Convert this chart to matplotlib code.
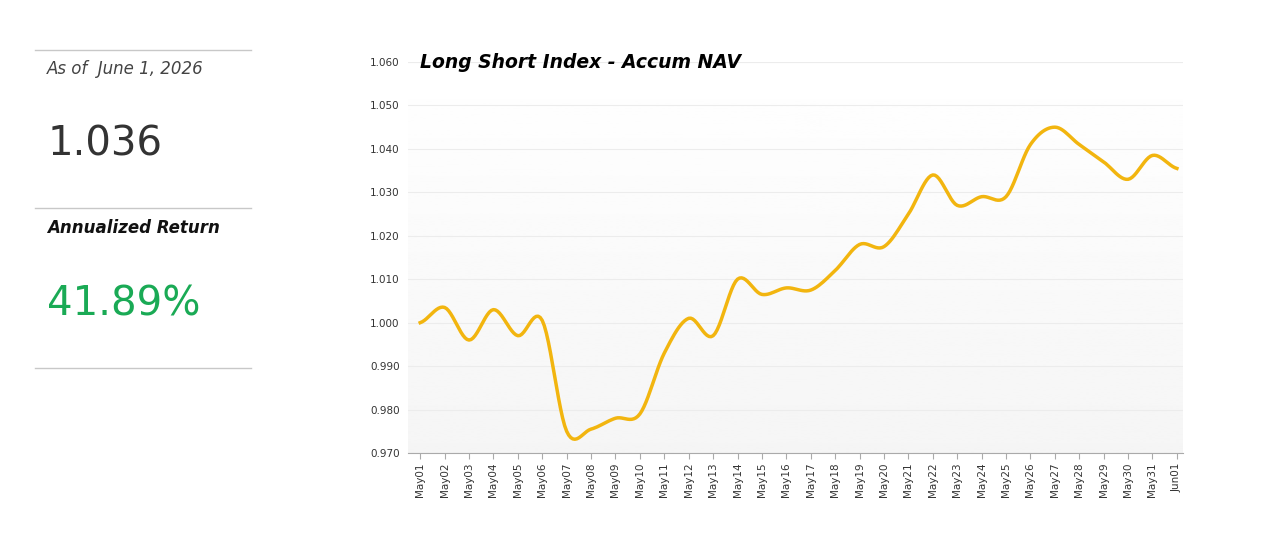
import matplotlib.pyplot as plt
import numpy as np

days = ["May%02d" % d for d in range(1, 32)] + ["Jun01"]
nav = [1.000, 1.0035, 0.996, 1.003, 0.997, 1.0005, 0.975, 0.9755, 0.978, 0.979,
       0.993, 1.001, 0.997, 1.010, 1.0065, 1.008, 1.0075, 1.012, 1.018, 1.0175,
       1.025, 1.034, 1.027, 1.029, 1.029, 1.041, 1.045, 1.041, 1.037, 1.033,
       1.0385, 1.0355]
yticks = [0.970, 0.980, 0.990, 1.000, 1.010, 1.020, 1.030, 1.040, 1.050, 1.060]


def smooth(y, n=12):
    # Catmull-Rom spline through the points, only for drawing a soft line
    y = np.asarray(y)
    p = np.concatenate([[y[0]], y, [y[-1]]])
    xs, ys = [], []
    for i in range(len(y) - 1):
        p0, p1, p2, p3 = p[i], p[i + 1], p[i + 2], p[i + 3]
        t = np.linspace(0, 1, n, endpoint=False)
        v = 0.5 * (2 * p1 + (-p0 + p2) * t + (2 * p0 - 5 * p1 + 4 * p2 - p3) * t**2
                   + (-p0 + 3 * p1 - 3 * p2 + p3) * t**3)
        xs.append(i + t)
        ys.append(v)
    xs.append([len(y) - 1])
    ys.append([y[-1]])
    return np.concatenate(xs), np.concatenate(ys)


fig = plt.figure(figsize=(12.8, 5.57), dpi=100)

# left summary panel
for yy in [50, 208, 368]:
    fig.add_artist(plt.Line2D([35 / 1280, 251 / 1280], [1 - yy / 557] * 2, color="#c8c8c8", lw=1))
fig.text(47 / 1280, 1 - 69 / 557, "As of  June 1, 2026", style="italic", fontsize=12, color="#444444", va="center")
fig.text(48 / 1280, 1 - 145 / 557, "1.036", fontsize=29, color="#333333", va="center")
fig.text(47 / 1280, 1 - 228 / 557, "Annualized Return", style="italic", weight="bold", fontsize=12, color="#111111", va="center")
fig.text(47 / 1280, 1 - 305 / 557, "41.89%", fontsize=29, color="#1aaa55", va="center")

ax = fig.add_axes([408 / 1280, 1 - 453 / 557, 775 / 1280, 391 / 557])
x = np.arange(len(nav))
ax.set_xlim(-0.5, len(nav) - 0.75)
ax.set_ylim(0.970, 1.060)
grad = np.linspace(0.96, 1.0, 256).reshape(-1, 1)
ax.imshow(grad, cmap="gray", vmin=0, vmax=1, aspect="auto", origin="lower",
          extent=[-0.5, len(nav) - 0.75, 0.970, 1.060], zorder=0)
for t in yticks:
    ax.axhline(t, color="#ececec", lw=0.8, zorder=1)
sx, sy = smooth(nav)
ax.plot(sx, sy, color="#f2b50f", lw=2.5, zorder=3)
ax.set_yticks(yticks)
ax.set_yticklabels(["%.3f" % t for t in yticks], fontsize=7.5, color="#333333")
ax.set_xticks(x)
ax.set_xticklabels(days, rotation=90, fontsize=7.5, color="#333333")
ax.tick_params(length=0, pad=6)
ax.tick_params(axis="x", length=4, color="#aaaaaa", pad=3)
for s in ["top", "right"]:
    ax.spines[s].set_visible(False)
ax.spines["left"].set_visible(False)
ax.spines["bottom"].set_color("#aaaaaa")
ax.text(0.0, 1.060, "Long Short Index - Accum NAV", style="italic", weight="bold",
        fontsize=13.5, va="center", ha="left", zorder=4)

fig.savefig("out.png", dpi=100)
